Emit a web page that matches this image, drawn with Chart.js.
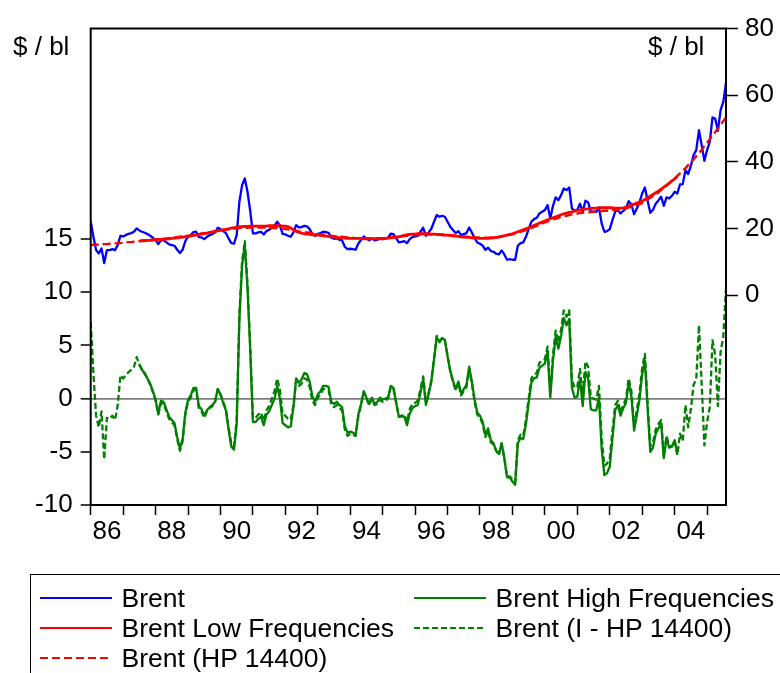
<!DOCTYPE html>
<html><head><meta charset="utf-8">
<script src="https://cdn.jsdelivr.net/npm/chart.js@4"></script>
<style>
html,body{margin:0;padding:0;background:#fff;}
#wrap{position:relative;width:780px;height:673px;overflow:hidden;font-family:'Liberation Sans',Arial,sans-serif;color:#000;}
#c{position:absolute;left:0;top:0;}
.unit{position:absolute;font-size:26px;line-height:30px;white-space:nowrap;}
#legend{position:absolute;left:30px;top:574px;width:800px;height:140px;border:1.5px solid #000;box-sizing:border-box;}
.item{position:absolute;height:30px;line-height:30px;font-size:26.5px;white-space:nowrap;}
.item svg{position:absolute;left:0;top:13px;}
.item span{position:absolute;top:0;}
</style></head>
<body>
<div id="wrap">
<canvas id="c" width="780" height="673"></canvas>
<div class="unit" style="left:13px;top:31px;">$ / bl</div>
<div class="unit" style="left:648px;top:31px;">$ / bl</div>
<div id="legend"></div>
</div>
<script>
// Monthly data, January 1986 - August 2005
const startYear = 1986;
const bandStart = 18; // first month (index) of the band-pass series

const brent = [
22.2,17.5,13.5,12.5,14.0,9.6,13.5,13.5,13.8,13.5,15.0,17.8,
17.6,18.0,18.4,18.6,19.0,20.0,19.4,19.0,18.7,18.3,17.8,17.2,
16.5,15.3,16.5,16.4,15.8,15.2,15.0,14.8,13.6,12.6,13.6,16.2,
17.5,18.0,18.9,19.0,17.4,17.3,16.8,17.5,18.0,18.3,18.8,20.2,
19.8,19.2,18.6,17.0,15.6,15.4,18.0,28.0,33.0,35.0,31.0,25.3,
18.5,18.5,18.8,19.0,18.2,19.2,19.6,20.2,20.8,22.0,20.8,18.4,
18.2,17.8,17.5,18.8,21.0,20.3,20.4,20.8,20.6,19.8,18.3,17.8,
18.4,18.6,19.0,18.9,18.7,17.2,16.9,17.0,16.6,16.4,14.5,13.8,
13.9,13.8,13.6,15.5,16.5,17.6,17.0,16.4,17.0,16.4,16.6,17.0,
16.8,17.0,17.2,18.4,18.3,17.0,15.8,16.0,16.2,15.6,16.8,17.4,
17.6,17.8,19.0,20.2,17.8,18.8,19.9,22.0,24.0,23.5,23.8,23.5,
22.0,20.5,19.5,18.6,19.2,18.0,18.3,18.6,20.3,18.8,17.0,15.8,
15.4,14.8,13.6,14.2,13.2,13.0,12.4,12.2,13.4,12.2,10.6,10.8,
10.6,10.6,14.8,15.6,15.8,17.5,19.8,22.0,22.8,23.2,24.5,25.0,
25.5,27.0,23.0,26.8,29.3,28.5,30.0,32.0,31.5,32.3,26.0,25.3,
25.6,27.4,25.0,28.3,27.8,25.0,25.0,25.0,26.3,21.5,19.0,19.2,
19.8,22.5,25.0,25.5,24.5,25.3,26.0,28.2,27.2,24.3,26.0,27.8,
30.5,32.3,28.3,24.7,25.6,27.4,28.4,29.5,26.8,29.3,29.0,29.8,
31.0,30.5,33.2,33.3,37.5,36.3,38.8,42.0,43.5,49.5,45.0,40.3,
43.5,46.0,53.3,53.0,49.3,55.5,58.0,63.7];

const brentHP = [
15.0,15.1,15.1,15.2,15.2,15.3,15.3,15.4,15.4,15.5,15.6,15.6,
15.7,15.8,15.9,15.9,16.0,16.1,16.2,16.3,16.4,16.4,16.5,16.6,
16.7,16.8,16.9,16.9,17.0,17.1,17.2,17.3,17.4,17.5,17.6,17.7,
17.8,17.9,18.1,18.2,18.3,18.5,18.6,18.7,18.9,19.0,19.1,19.3,
19.4,19.5,19.6,19.7,19.8,19.9,20.0,20.1,20.1,20.2,20.2,20.3,
20.3,20.3,20.3,20.3,20.3,20.3,20.3,20.2,20.1,20.1,20.0,19.9,
19.8,19.7,19.5,19.4,19.3,19.1,19.0,18.9,18.8,18.7,18.5,18.4,
18.3,18.2,18.1,18.0,17.9,17.8,17.7,17.6,17.5,17.5,17.4,17.3,
17.2,17.2,17.1,17.1,17.1,17.0,17.0,17.0,17.0,17.0,17.1,17.1,
17.1,17.2,17.2,17.3,17.4,17.4,17.5,17.6,17.7,17.8,17.8,17.9,
18.0,18.0,18.1,18.1,18.1,18.2,18.2,18.2,18.1,18.1,18.1,18.0,
18.0,17.9,17.9,17.8,17.7,17.7,17.6,17.5,17.5,17.4,17.3,17.3,
17.2,17.2,17.2,17.2,17.3,17.3,17.3,17.5,17.6,17.8,17.9,18.1,
18.2,18.5,18.7,19.0,19.3,19.5,19.8,20.1,20.5,20.8,21.1,21.5,
21.8,22.1,22.4,22.7,22.9,23.2,23.5,23.7,23.8,24.0,24.2,24.3,
24.5,24.6,24.7,24.8,24.8,24.9,25.0,25.1,25.1,25.2,25.3,25.3,
25.4,25.5,25.6,25.7,25.8,25.9,26.0,26.3,26.5,26.8,27.1,27.3,
27.6,28.1,28.7,29.2,29.7,30.3,30.8,31.5,32.2,32.8,33.5,34.3,
35.0,35.8,36.5,37.3,38.1,39.0,39.8,40.7,41.7,42.6,43.6,44.7,
45.7,46.8,47.8,48.9,50.0,51.1,52.2,53.3];

const brentLow = [ // from July 1987 to February 2004
16.2,16.3,16.3,16.4,16.4,16.5,
16.6,16.7,16.7,16.7,16.8,16.9,17.0,17.1,17.2,17.3,17.4,17.5,
17.6,17.7,17.9,18.0,18.1,18.3,18.4,18.6,18.8,18.9,19.1,19.3,
19.4,19.6,19.7,19.9,20.1,20.2,20.4,20.5,20.5,20.6,20.6,20.7,
20.7,20.7,20.7,20.7,20.7,20.7,20.8,20.8,20.8,20.8,20.8,20.7,
20.7,20.5,20.1,19.6,19.1,18.8,18.6,18.4,18.3,18.2,18.1,18.1,
18.0,17.9,17.8,17.7,17.6,17.5,17.4,17.3,17.2,17.2,17.1,17.0,
17.0,17.0,17.0,17.0,17.0,16.9,16.9,16.9,16.9,16.9,16.9,16.9,
16.9,17.0,17.1,17.2,17.3,17.4,17.5,17.7,17.9,18.1,18.2,18.3,
18.3,18.4,18.4,18.4,18.4,18.4,18.3,18.3,18.2,18.2,18.1,18.0,
18.0,17.9,17.8,17.7,17.6,17.5,17.4,17.3,17.3,17.2,17.1,17.1,
17.0,17.0,17.0,17.0,17.1,17.2,17.3,17.4,17.6,17.8,18.0,18.2,
18.4,18.7,19.0,19.3,19.6,19.9,20.2,20.5,20.9,21.2,21.6,21.9,
22.2,22.6,22.9,23.2,23.5,23.8,24.1,24.4,24.6,24.8,25.0,25.2,
25.4,25.5,25.7,25.8,25.9,26.0,26.1,26.1,26.2,26.2,26.2,26.2,
26.2,26.2,26.1,26.1,26.1,26.2,26.4,26.7,27.0,27.3,27.6,27.9,
28.2,28.7,29.2,29.7,30.2,30.7,31.2,31.8,32.4,33.0,33.6,34.3,
34.9,35.6];

const brentHigh = [ // from July 1987 to February 2004
3.2,2.7,2.4,1.9,1.4,0.7,
-0.1,-1.4,-0.2,-0.3,-1.0,-1.7,-2.0,-2.3,-3.6,-4.7,-3.8,-1.3,
-0.1,0.3,1.0,1.0,-0.7,-1.0,-1.6,-1.1,-0.8,-0.6,-0.3,0.9,
0.4,-0.4,-1.1,-2.9,-4.5,-4.8,-2.4,7.5,12.5,14.4,10.4,4.6,
-2.2,-2.2,-1.9,-1.7,-2.5,-1.5,-1.2,-0.6,0.0,1.2,0.0,-2.3,
-2.5,-2.7,-2.6,-0.8,1.9,1.5,1.8,2.4,2.3,1.6,0.2,-0.3,
0.4,0.7,1.2,1.2,1.1,-0.3,-0.5,-0.3,-0.6,-0.8,-2.6,-3.2,
-3.1,-3.2,-3.4,-1.5,-0.5,0.7,0.1,-0.5,0.1,-0.5,-0.3,0.1,
-0.1,0.0,0.1,1.2,1.0,-0.4,-1.7,-1.7,-1.7,-2.5,-1.4,-0.9,
-0.7,-0.6,0.6,1.8,-0.6,0.4,1.6,3.7,5.8,5.3,5.7,5.5,
4.0,2.6,1.7,0.9,1.6,0.5,0.9,1.3,3.0,1.6,-0.1,-1.3,
-1.6,-2.2,-3.4,-2.8,-3.9,-4.2,-4.9,-5.2,-4.2,-5.6,-7.4,-7.4,
-7.8,-8.1,-4.2,-3.7,-3.8,-2.4,-0.4,1.5,1.9,2.0,2.9,3.1,
3.3,4.4,0.1,3.6,5.8,4.7,5.9,7.6,6.9,7.5,1.0,0.1,
0.2,1.9,-0.7,2.5,1.9,-1.0,-1.1,-1.1,0.1,-4.7,-7.2,-7.0,
-6.4,-3.7,-1.1,-0.6,-1.6,-0.9,-0.4,1.5,0.2,-3.0,-1.6,-0.1,
2.3,3.6,-0.9,-5.0,-4.6,-3.3,-2.8,-2.3,-5.6,-3.7,-4.6,-4.5,
-3.9,-5.1];

const brentIHP = [
7.2,2.4,-1.6,-2.7,-1.2,-5.7,-1.8,-1.9,-1.6,-2.0,-0.6,2.2,
1.9,2.2,2.5,2.7,3.0,3.9,3.2,2.7,2.3,1.9,1.3,0.6,
-0.2,-1.5,-0.4,-0.5,-1.2,-1.9,-2.2,-2.5,-3.8,-4.9,-4.0,-1.5,
-0.3,0.1,0.8,0.8,-0.9,-1.2,-1.8,-1.2,-0.9,-0.7,-0.3,0.9,
0.4,-0.3,-1.0,-2.7,-4.2,-4.5,-2.0,7.9,12.9,14.8,10.8,5.0,
-1.8,-1.8,-1.5,-1.3,-2.1,-1.1,-0.7,0.0,0.7,1.9,0.8,-1.5,
-1.6,-1.9,-2.0,-0.6,1.7,1.2,1.4,1.9,1.8,1.1,-0.2,-0.6,
0.1,0.4,0.9,0.9,0.8,-0.6,-0.8,-0.6,-0.9,-1.1,-2.9,-3.5,
-3.3,-3.4,-3.5,-1.6,-0.6,0.6,0.0,-0.6,0.0,-0.6,-0.5,-0.1,
-0.3,-0.2,0.0,1.1,0.9,-0.4,-1.7,-1.6,-1.5,-2.2,-1.0,-0.5,
-0.4,-0.2,0.9,2.1,-0.3,0.6,1.7,3.8,5.9,5.4,5.7,5.5,
4.0,2.6,1.6,0.8,1.5,0.3,0.7,1.1,2.8,1.4,-0.3,-1.5,
-1.8,-2.4,-3.6,-3.0,-4.1,-4.3,-4.9,-5.3,-4.2,-5.6,-7.3,-7.3,
-7.6,-7.9,-3.9,-3.4,-3.5,-2.0,0.0,1.9,2.3,2.4,3.4,3.5,
3.7,4.9,0.6,4.1,6.4,5.3,6.5,8.3,7.7,8.3,1.8,1.0,
1.1,2.8,0.3,3.5,3.0,0.1,0.0,-0.1,1.2,-3.7,-6.3,-6.1,
-5.6,-3.0,-0.6,-0.2,-1.3,-0.6,0.0,1.9,0.7,-2.5,-1.1,0.5,
2.9,4.2,-0.4,-4.5,-4.1,-2.9,-2.4,-2.0,-5.4,-3.5,-4.5,-4.5,
-4.0,-5.3,-3.3,-4.0,-0.6,-2.7,-1.0,1.3,1.8,6.9,1.4,-4.4,
-2.2,-0.8,5.5,4.1,-0.7,4.4,5.8,10.4];

const yearTicks = [1986,1987,1988,1989,1990,1991,1992,1993,1994,1995,1996,1997,1998,1999,2000,2001,2002,2003,2004,2005];
const yearLabels = ['86','','88','','90','','92','','94','','96','','98','','00','','02','','04',''];
const leftTicks = [-10,-5,0,5,10,15];
const rightTicks = [0,20,40,60,80];

const seriesNames = ['Brent','Brent Low Frequencies','Brent (HP 14400)','Brent High Frequencies','Brent (I - HP 14400)'];

const FONT = "'Liberation Sans', Arial, Helvetica, sans-serif";
const BLUE = '#0000ff', RED = '#ff0000', GREEN = '#008000';

function pts(arr, off) {
  return arr.map((v, i) => ({ x: startYear + (i + off) / 12, y: v }));
}

const framePlugin = {
  id: 'frame',
  afterDatasetsDraw(chart) {
    const { ctx, chartArea: a } = chart;
    ctx.save();
    ctx.strokeStyle = '#000';
    ctx.lineWidth = 2;
    ctx.strokeRect(a.left, a.top, a.right - a.left, a.bottom - a.top);
    ctx.restore();
  }
};

const lineCommon = { pointRadius: 0, borderJoinStyle: 'round', tension: 0, fill: false, spanGaps: false };

new Chart(document.getElementById('c'), {
  type: 'line',
  data: {
    datasets: [
      Object.assign({ label: seriesNames[4], data: pts(brentIHP, 0), yAxisID: 'y', borderColor: GREEN, borderWidth: 2.3, borderDash: [6, 3] }, lineCommon),
      Object.assign({ label: seriesNames[3], data: pts(brentHigh, bandStart), yAxisID: 'y', borderColor: GREEN, borderWidth: 2.3 }, lineCommon),
      Object.assign({ label: seriesNames[2], data: pts(brentHP, 0), yAxisID: 'y1', borderColor: RED, borderWidth: 2.4, borderDash: [8, 4] }, lineCommon),
      Object.assign({ label: seriesNames[1], data: pts(brentLow, bandStart), yAxisID: 'y1', borderColor: RED, borderWidth: 2.8 }, lineCommon),
      Object.assign({ label: seriesNames[0], data: pts(brent, 0), yAxisID: 'y1', borderColor: BLUE, borderWidth: 2.3 }, lineCommon)
    ]
  },
  options: {
    responsive: false,
    animation: false,
    devicePixelRatio: 1,
    layout: { padding: { top: 28.5, bottom: 123, left: 0, right: 0 } },
    plugins: { legend: { display: false }, tooltip: { enabled: false } },
    font: { family: FONT },
    scales: {
      x: {
        type: 'linear',
        min: startYear,
        max: startYear + (brent.length - 1) / 12,
        afterBuildTicks: s => { s.ticks = yearTicks.map(v => ({ value: v })); },
        afterFit: s => { s.height = 45; },
        border: { display: false },
        grid: { drawOnChartArea: false, drawTicks: true, tickLength: 10, tickColor: '#000', tickWidth: 1.5 },
        ticks: {
          autoSkip: false, maxRotation: 0, minRotation: 0, labelOffset: 16.2, padding: 1,
          color: '#000', font: { family: FONT, size: 26 },
          callback: (v, i) => yearLabels[i]
        }
      },
      y: {
        type: 'linear', position: 'left', min: -10, max: 34.8,
        afterBuildTicks: s => { s.ticks = leftTicks.map(v => ({ value: v })); },
        afterFit: s => { s.width = 90.7; },
        border: { display: false },
        grid: {
          drawOnChartArea: true, tickLength: 10, tickColor: '#000', tickWidth: 1.5,
          color: c => (c.tick && c.tick.value === 0) ? '#808080' : 'rgba(0,0,0,0)',
          lineWidth: c => (c.tick && c.tick.value === 0) ? 1.7 : 0
        },
        ticks: { padding: 8, color: '#000', font: { family: FONT, size: 26 }, callback: v => String(v) }
      },
      y1: {
        type: 'linear', position: 'right', min: -63, max: 80,
        afterBuildTicks: s => { s.ticks = rightTicks.map(v => ({ value: v })); },
        afterFit: s => { s.width = 54; },
        border: { display: false },
        grid: { drawOnChartArea: false, tickLength: 12, tickColor: '#000', tickWidth: 1.5 },
        ticks: { padding: 7, color: '#000', font: { family: FONT, size: 26 }, callback: v => String(v) }
      }
    }
  },
  plugins: [framePlugin]
});

// Legend (two columns in a framed box)
const legendItems = [
  { name: seriesNames[0], color: BLUE, dash: null, col: 0, row: 0 },
  { name: seriesNames[3], color: GREEN, dash: null, col: 1, row: 0 },
  { name: seriesNames[1], color: RED, dash: null, col: 0, row: 1 },
  { name: seriesNames[4], color: GREEN, dash: '6 3', col: 1, row: 1 },
  { name: seriesNames[2], color: RED, dash: '8 4', col: 0, row: 2 }
];
const lg = document.getElementById('legend');
const colX = [8.5, 382.5];
legendItems.forEach(it => {
  const d = document.createElement('div');
  d.className = 'item';
  d.style.left = colX[it.col] + 'px';
  d.style.top = (7.5 + it.row * 30) + 'px';
  const dashAttr = it.dash ? ` stroke-dasharray="${it.dash}"` : '';
  d.innerHTML = `<svg width="72" height="4"><line x1="0" y1="2" x2="72" y2="2" stroke="${it.color}" stroke-width="2"${dashAttr}/></svg><span style="left:82px">${it.name}</span>`;
  lg.appendChild(d);
});
</script>
</body></html>
